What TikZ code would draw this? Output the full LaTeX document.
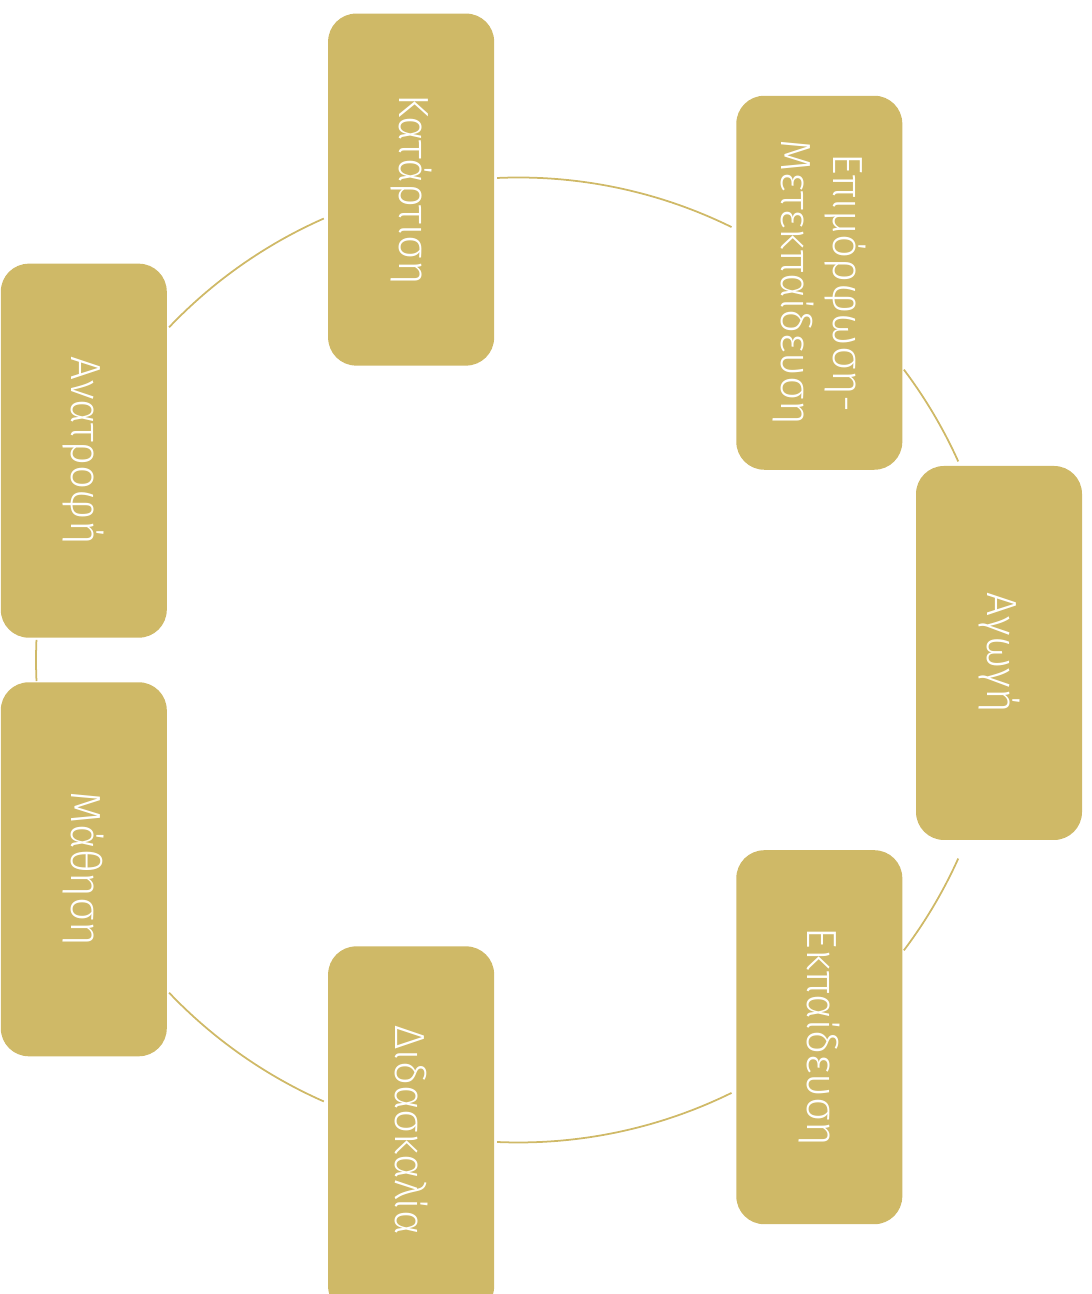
\documentclass[tikz,border=0pt]{standalone}
\usepackage{fontspec}
\setmainfont{Fira Sans Light}
\usepackage{tikz}
\usetikzlibrary{calc}
\definecolor{gold}{RGB}{207,185,103}

\begin{document}
\begin{tikzpicture}[
    stage/.style={rectangle, rounded corners=0.28cm, fill=gold, text=white, rotate=-90,
      minimum width=3.74cm, minimum height=1.66cm, inner sep=0pt, align=center,
      font=\fontsize{12}{15}\selectfont},
    link/.style={gold, line width=0.5pt}
  ]
        % Frame
        \useasboundingbox (0,0) rectangle (10.92,12.94);

        % Define Coordinates
        \coordinate (O) at (5.185,6.34);
        \def\R{4.825}

        % Draw Stages
        \node[stage] (agogi) at ($(O)+(0:\R)+(-0.02,0.07)$) {Αγωγή};
        \node[stage] (ekpaideusi) at ($(O)+(-51.43:\R)$) {Εκπαίδευση};
        \node[stage, minimum width=3.68cm] (didaskalia) at ($(O)+(-102.86:\R)$) {Διδασκαλία};
        \node[stage] (mathisi) at ($(O)+(-154.29:\R)$) {Μάθηση};
        \node[stage] (anatrofi) at ($(O)+(154.29:\R)$) {Ανατροφή};
        \node[stage, minimum width=3.52cm] (katartisi) at ($(O)+(102.86:\R)$) {Κατάρτιση};
        \node[stage] (epimorfosi) at ($(O)+(51.43:\R)$) {Επιμόρφωση-\\Μετεκπαίδευση};

        % Cycle Arcs
        \foreach \a/\b in {92.55/63.8, 37/24.3, -24.3/-37, -63.8/-92.55,
                           -113.8/-136.4, -177.5/-182.4, 136.4/113.8}
          \draw[link] ($(O)+(\a:\R)$) arc (\a:\b:\R);

\end{tikzpicture}
\end{document}
